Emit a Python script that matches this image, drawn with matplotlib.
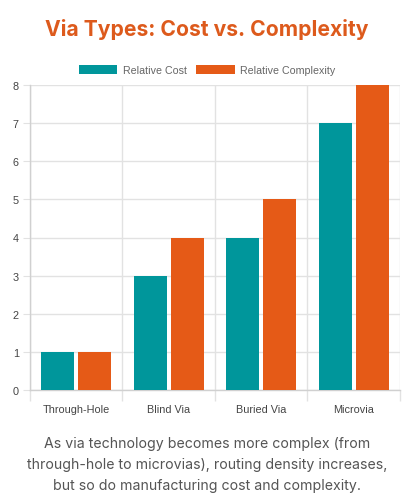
import numpy as np
import matplotlib.pyplot as plt
from matplotlib.patches import Patch

categories = ['Through-Hole', 'Blind Via', 'Buried Via', 'Microvia']
relative_cost = [1, 3, 4, 7]
relative_complexity = [1, 4, 5, 8]
series_names = ['Relative Cost', 'Relative Complexity']

teal = '#00969b'
orange = '#e55a17'
grid_c = '#e2e2e2'

plt.rcParams['font.family'] = ['Liberation Sans', 'DejaVu Sans']

fig = plt.figure(figsize=(4.14, 5.02), dpi=100)
ax = fig.add_axes([30 / 414, 1 - 391 / 502, 370 / 414, 305 / 502])

x = np.arange(len(categories))
w = 0.8 / 2 * 0.9
ax.bar(x - 0.2, relative_cost, width=w, color=teal, zorder=3)
ax.bar(x + 0.2, relative_complexity, width=w, color=orange, zorder=3)

ax.set_xlim(-0.5, len(categories) - 0.5)
ax.set_ylim(0, 8)
ax.set_yticks(range(0, 9))
ax.set_xticks(x)
ax.set_xticklabels(categories)
ax.set_xticks(np.arange(-0.5, len(categories)), minor=True)

ax.grid(axis='y', color=grid_c, linewidth=1, zorder=0)
ax.grid(axis='x', which='minor', color=grid_c, linewidth=1, zorder=0)
ax.tick_params(axis='x', which='major', length=0, pad=10, labelsize=7.8, labelcolor='#444444')
ax.tick_params(axis='x', which='minor', length=8, color=grid_c, width=1)
ax.tick_params(axis='y', length=5, color=grid_c, labelsize=7.8, labelcolor='#444444', pad=3)
for s in ['top', 'right']:
    ax.spines[s].set_visible(False)
for s in ['left', 'bottom']:
    ax.spines[s].set_color('#d0d0d0')
    ax.spines[s].set_linewidth(1)

handles = [Patch(facecolor=teal, label=series_names[0]),
           Patch(facecolor=orange, label=series_names[1])]
fig.legend(handles=handles, loc='center', bbox_to_anchor=(207 / 414, 1 - 71 / 502),
           ncol=2, frameon=False, fontsize=7.7, handlelength=3.6, handleheight=0.9,
           handletextpad=0.5, columnspacing=0.9, labelcolor='#666666')

fig.text(0.5, 1 - 30 / 502, 'Via Types: Cost vs. Complexity', ha='center', va='center',
         fontsize=15.2, fontweight='bold', color='#dd5a1c', family=['Inter', 'DejaVu Sans'])

caption = ('As via technology becomes more complex (from\n'
           'through-hole to microvias), routing density increases,\n'
           'but so do manufacturing cost and complexity.')
fig.text(0.5, 1 - 465 / 502, caption, ha='center', va='center', fontsize=10.2,
         color='#555555', linespacing=1.6, family=['Inter', 'DejaVu Sans'])

fig.savefig('out.png', dpi=100)
